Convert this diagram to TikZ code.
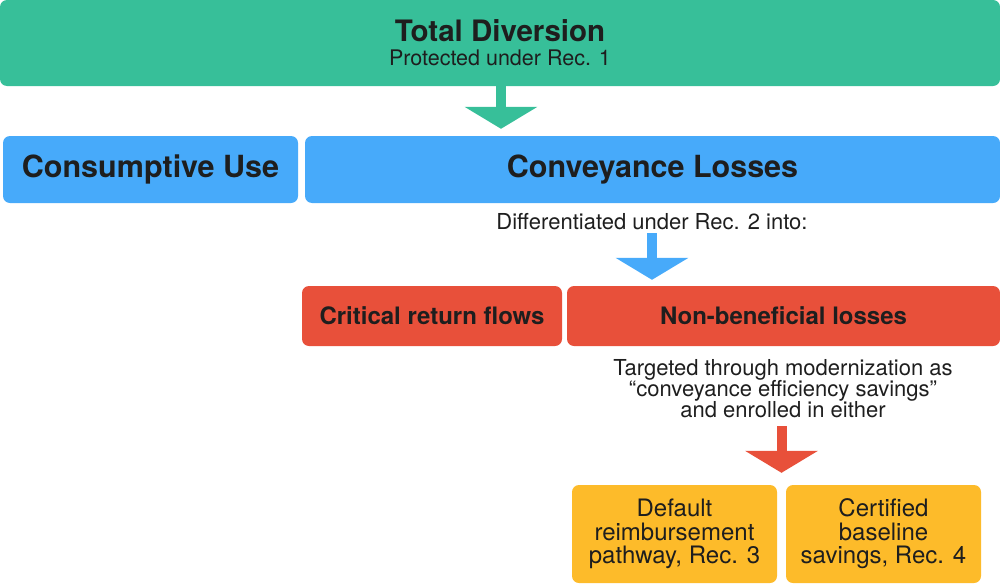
\documentclass[tikz,border=0pt]{standalone}
\usepackage{fontspec}
\setmainfont{TeX Gyre Heros}
\usetikzlibrary{arrows.meta,positioning,calc}

\definecolor{divgreen}{HTML}{37BF99}
\definecolor{lossblue}{HTML}{47AAFA}
\definecolor{flowred}{HTML}{E8503A}
\definecolor{saveyellow}{HTML}{FDBB2A}
\definecolor{inkdark}{HTML}{1E1E1E}

\begin{document}
\begin{tikzpicture}[
  x=1pt, y=-1pt,
  every node/.style={text=inkdark, align=center},
  box/.style={rounded corners=7pt, inner sep=2pt},
  bigbox/.style={box, font=\fontsize{30.5}{32}\selectfont\bfseries},
  midbox/.style={box, font=\fontsize{24}{26}\selectfont\bfseries},
  savebox/.style={box, fill=saveyellow, minimum height=98pt, font=\fontsize{24}{23.5}\selectfont},
  note/.style={inner sep=0pt, font=\fontsize{22}{21}\selectfont},
  fatarrow/.style={line width=10pt, -{Triangle[width=72pt,length=22pt]}}
]
\useasboundingbox (0,0) rectangle (1000,586);

% top level
\node[box, fill=divgreen, minimum width=1000pt, minimum height=86pt, font=\fontsize{21.5}{24}\selectfont] (total) at (500,43)
  {{\fontsize{29.5}{30}\selectfont\bfseries Total Diversion}\\Protected under Rec. 1};

% split of diversion
\node[bigbox, fill=lossblue, minimum width=295pt, minimum height=67pt] (consume) at (150.5,169.5) {Consumptive Use};
\node[bigbox, fill=lossblue, minimum width=695pt, minimum height=67pt] (convey) at (652.5,169.5) {Conveyance Losses};
\node[note] (difflabel) at (652,222) {Differentiated under Rec. 2 into:};

% split of losses
\node[midbox, fill=flowred, minimum width=260pt, minimum height=60pt] (critical) at (432,316) {Critical return flows};
\node[midbox, fill=flowred, minimum width=433pt, minimum height=60pt] (nonben) at (783.5,316) {Non-beneficial losses};
\node[note] (target) at (783,389) {Targeted through modernization as\\``conveyance efficiency savings''\\and enrolled in either};

% enrolment options
\node[savebox, minimum width=205pt] (default) at (674.5,534) {Default\\reimbursement\\pathway, Rec. 3};
\node[savebox, minimum width=195pt] (certified) at (883.5,534) {Certified\\baseline\\savings, Rec. 4};
\coordinate (optgap) at ($(default.north east)!0.5!(certified.north west)$);

\draw[fatarrow, divgreen, shorten >=7pt] ([xshift=1pt]total.south) -- ([xshift=1pt]total.south |- convey.north);
\draw[fatarrow, lossblue, shorten <=3pt, shorten >=6pt] (difflabel.south) -- (difflabel.south |- nonben.north);
\draw[fatarrow, flowred, shorten <=8pt, shorten >=12pt] (target.south -| optgap) -- (optgap);
\end{tikzpicture}
\end{document}
